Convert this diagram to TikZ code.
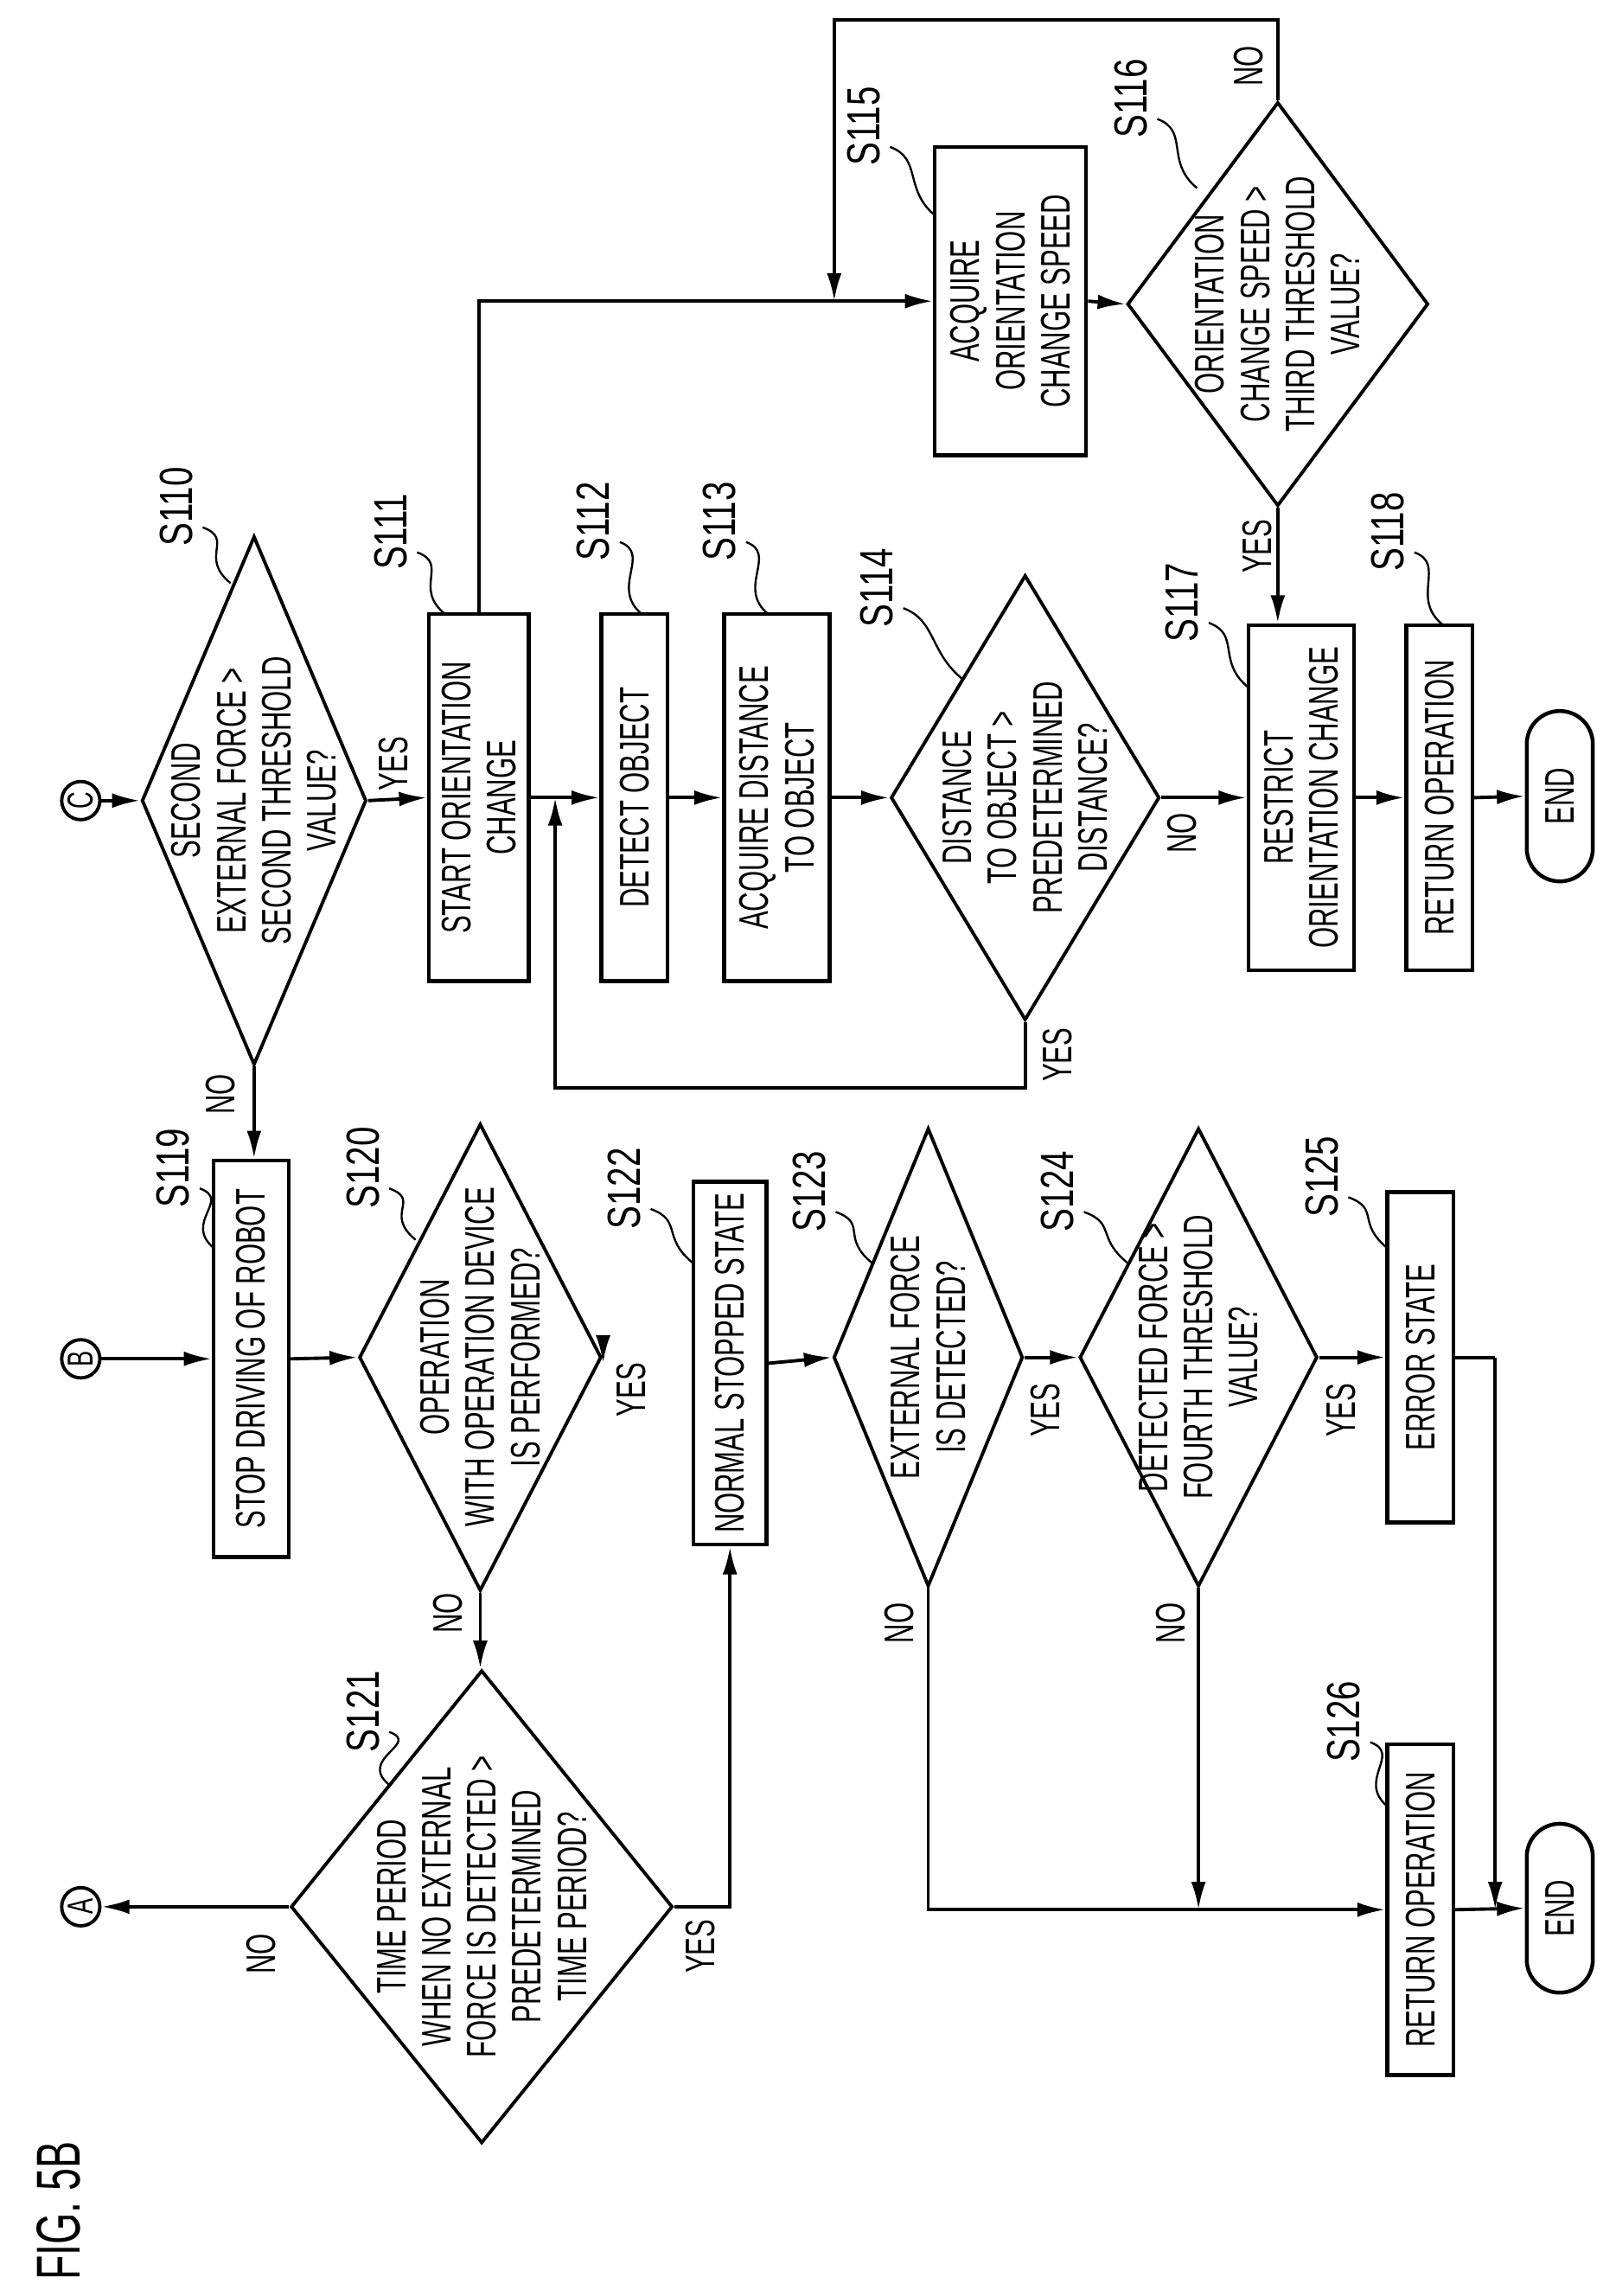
\documentclass[tikz,border=0pt]{standalone}
\usepackage{fontspec}
\setmainfont{Liberation Sans}[FakeStretch=0.65]
\newfontfamily\lblfont{Liberation Sans}[FakeStretch=0.75]
\usetikzlibrary{shapes.geometric, arrows.meta, calc}

\tikzset{
    box/.style={draw, line width=1.5pt, rotate=90, align=center, inner sep=0pt, font=\fontsize{16}{17.5}\selectfont},
    dia/.style={draw, diamond, line width=1.3pt, rotate=90, inner sep=0pt},
    dtext/.style={rotate=90, align=center, inner sep=0pt, font=\fontsize{16}{17.5}\selectfont},
    term/.style={box, rounded corners=0.45cm},
    conn/.style={draw, circle, line width=1.3pt, rotate=90, minimum size=0.52cm, inner sep=0pt, font=\fontsize{14}{14}\selectfont},
    yn/.style={rotate=90, inner sep=0pt, font=\fontsize{16}{16}\selectfont},
    lbl/.style={rotate=90, inner sep=0pt, font=\lblfont\fontsize{18}{18}\selectfont},
    leader/.style={line width=0.8pt},
    arr/.style={line width=1.3pt, -{Latex[length=3.8mm, width=2mm]}},
}
\newcommand{\steplbl}[3]{%
    \node[lbl] (l#1) at (#2) {S#1};
    \draw[leader] ($(#2)+(18,14)$) .. controls +(22,8) and +(-22,-18) .. (#3);}

\begin{document}
\begin{tikzpicture}[x=0.02cm, y=-0.02cm]
    \useasboundingbox (0,0) rectangle (1100,1563);

    \node[rotate=90, font=\fontsize{24}{24}\selectfont] (fig) at (40,1505) {FIG. 5B};

    % connectors
    \node[conn] (cC) at (55,545) {C};
    \node[conn] (cB) at (55,925) {B};
    \node[conn] (cA) at (55,1298) {A};

    % right column
    \node[dia, minimum width=7.2cm, minimum height=3.06cm] (s110) at (173,545) {};
    \node[dtext] (t110) at (173,545) {SECOND\\EXTERNAL FORCE >\\SECOND THRESHOLD\\VALUE?};
    \node[box, minimum width=5cm, minimum height=1.36cm] (s111) at (326,543) {START ORIENTATION\\CHANGE};
    \node[box, minimum width=5cm, minimum height=0.9cm] (s112) at (432,543) {DETECT OBJECT};
    \node[box, minimum width=5cm, minimum height=1.44cm] (s113) at (529,543) {ACQUIRE DISTANCE\\TO OBJECT};
    \node[dia, minimum width=6.06cm, minimum height=3.66cm] (s114) at (698,543) {};
    \node[dtext] (t114) at (698,543) {DISTANCE\\TO OBJECT >\\PREDETERMINED\\DISTANCE?};
    \node[box, minimum width=4.7cm, minimum height=1.44cm] (s117) at (886,543) {RESTRICT\\ORIENTATION CHANGE};
    \node[box, minimum width=4.7cm, minimum height=0.9cm] (s118) at (980,543) {RETURN OPERATION};
    \node[term, minimum width=2.32cm, minimum height=0.9cm] (end1) at (1062,542) {END};
    \node[box, minimum width=4.2cm, minimum height=2.06cm] (s115) at (688,205) {ACQUIRE\\ORIENTATION\\CHANGE SPEED};
    \node[dia, minimum width=5.5cm, minimum height=4.1cm] (s116) at (870,207) {};
    \node[dtext] (t116) at (870,207) {ORIENTATION\\CHANGE SPEED >\\THIRD THRESHOLD\\VALUE?};

    % left column
    \node[box, minimum width=5.4cm, minimum height=1.02cm] (s119) at (171,925) {STOP DRIVING OF ROBOT};
    \node[dia, minimum width=6.36cm, minimum height=3.3cm] (s120) at (327,924) {};
    \node[dtext] (t120) at (327,924) {OPERATION\\WITH OPERATION DEVICE\\IS PERFORMED?};
    \node[dia, minimum width=6.44cm, minimum height=5.2cm] (s121) at (328,1298) {};
    \node[dtext] (t121) at (328,1298) {TIME PERIOD\\WHEN NO EXTERNAL\\FORCE IS DETECTED >\\PREDETERMINED\\TIME PERIOD?};
    \node[box, minimum width=4.94cm, minimum height=1cm] (s122) at (497,928) {NORMAL STOPPED STATE};
    \node[dia, minimum width=6.24cm, minimum height=2.58cm] (s123) at (632,924) {};
    \node[dtext] (t123) at (632,924) {EXTERNAL FORCE\\IS DETECTED?};
    \node[dia, minimum width=6.24cm, minimum height=3.24cm] (s124) at (816,924) {};
    \node[dtext] (t124) at (816,924) {DETECTED FORCE >\\FOURTH THRESHOLD\\VALUE?};
    \node[box, minimum width=4.5cm, minimum height=0.9cm] (s125) at (967,924) {ERROR STATE};
    \node[box, minimum width=4.5cm, minimum height=0.9cm] (s126) at (967,1300) {RETURN OPERATION};
    \node[term, minimum width=2.3cm, minimum height=0.9cm] (end2) at (1062,1299) {END};

    % step labels
    \steplbl{110}{120,345}{157,397}
    \steplbl{111}{266,362}{303,418}
    \steplbl{112}{404,355}{437,418}
    \steplbl{113}{490,355}{523,418}
    \steplbl{114}{597,400}{655,462}
    \steplbl{115}{588,86}{637,147}
    \steplbl{116}{770,67}{815,128}
    \steplbl{117}{805,410}{850,468}
    \steplbl{118}{945,362}{982,425}
    \steplbl{119}{118,795}{146,850}
    \steplbl{120}{247,795}{283,844}
    \steplbl{121}{247,1165}{265,1215}
    \steplbl{122}{425,809}{472,860}
    \steplbl{123}{551,811}{594,860}
    \steplbl{124}{720,811}{768,860}
    \steplbl{125}{900,801}{945,850}
    \steplbl{126}{915,1172}{945,1230}

    % branch labels
    \node[yn] (y110) at (268,520) {YES};
    \node[yn] (n110) at (150,745) {NO};
    \node[yn] (y114) at (720,718) {YES};
    \node[yn] (n114) at (805,567) {NO};
    \node[yn] (n116) at (850,45) {NO};
    \node[yn] (y116) at (856,372) {YES};
    \node[yn] (n120) at (305,1098) {NO};
    \node[yn] (y120) at (430,946) {YES};
    \node[yn] (n121) at (178,1330) {NO};
    \node[yn] (y121) at (477,1325) {YES};
    \node[yn] (y123) at (712,960) {YES};
    \node[yn] (n123) at (612,1105) {NO};
    \node[yn] (y124) at (913,960) {YES};
    \node[yn] (n124) at (797,1105) {NO};

    \coordinate (jn) at (378,543);
    \coordinate (jt) at (568,205);
    \coordinate (k) at (1018,924);

    % flow
    \draw[arr] (cC) -- (s110.north);
    \draw[arr] (s110.south) -- (s111.north);
    \draw[arr] (s111.south) -- (s112.north);
    \draw[arr] (s112.south) -- (s113.north);
    \draw[arr] (s113.south) -- (s114.north);
    \draw[arr] (s114.south) -- (s117.north);
    \draw[arr] (s117.south) -- (s118.north);
    \draw[arr] (s118.south) -- (end1.north);
    \draw[arr] (s114.west) -- ++(0,45) -| (jn);
    \draw[arr] (s111.east) |- (s115.north);
    \draw[arr] (s115.south) -- (s116.north);
    \draw[arr] (s116.east) -- ++(0,-55) -| (jt);
    \draw[arr] (s116.west) -- (s116.west |- s117.east);
    \draw[arr] (s110.west) -- (s110.west |- s119.east);

    \draw[arr] (cB) -- (s119.north);
    \draw[arr] (s119.south) -- (s120.north);
    \draw[arr] (s120.south) -- (s122.north -| s120.south);
    \draw[arr] (s120.west) -- (s120.west |- s121.east);
    \draw[arr] (s121.north) -- (cA);
    \draw[arr] (s121.south) -| (s122.west);
    \draw[arr] (s122.south) -- (s123.north);
    \draw[arr] (s123.south) -- (s124.north);
    \draw[arr] (s124.south) -- (s125.north);
    \draw[arr] (s123.west) |- (s126.north);
    \draw[arr] (s124.west) -- (s124.west |- s126.north);
    \draw[line width=1.3pt] (s125.south) -- (k);
    \draw[arr] (k) -- (k |- s126.south);
    \draw[arr] (s126.south) -- (end2.north);
\end{tikzpicture}
\end{document}
